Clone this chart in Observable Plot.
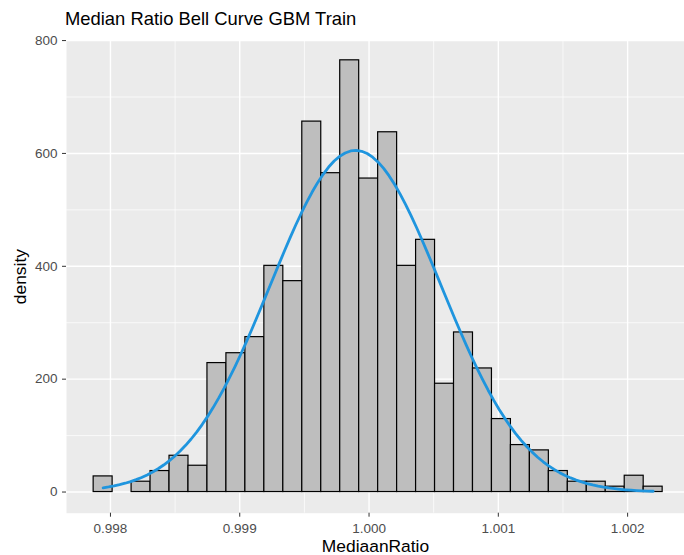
<!DOCTYPE html>
<html><head><meta charset="utf-8">
<script src="https://cdn.jsdelivr.net/npm/d3@7"></script>
<script src="https://cdn.jsdelivr.net/npm/@observablehq/plot@0.6"></script>
<style>
body{margin:0;background:#fff;font-family:"Liberation Sans",Arial,sans-serif;}
#title{height:35px;font-size:18.4px;line-height:38px;padding-left:65px;color:#000;white-space:nowrap;}
#chart svg{display:block;}
</style></head><body>
<div id="title">Median Ratio Bell Curve GBM Train</div>
<div id="chart"></div>
<script>
// Histogram bins (ggplot default 30 bins)
const binStart = 0.99787;
const binWidth = 0.0001467;
const densities = [27.7, 0, 18.3, 37.2, 64.3, 46.6, 228.5, 246, 274.5, 400.8,
                   373.7, 656.4, 565, 765, 555.5, 637.5, 400.8, 446.9, 191.9, 282.8,
                   219, 129.3, 83.2, 73.8, 37.2, 18.3, 18.3, 9.5, 28.9, 9.5];
// Normal curve parameters (stat_function dnorm)
const meanRatio = 0.999896;
const sdRatio = 0.000659;
// Axis ticks
const xTicks = [0.998, 0.999, 1.000, 1.001, 1.002];
const xMinor = [0.9985, 0.9995, 1.0005, 1.0015];
const yTicks = [0, 200, 400, 600, 800];
const yMinor = [100, 300, 500, 700];

const bins = densities.map((d, i) => ({x1: binStart + i * binWidth, x2: binStart + (i + 1) * binWidth, density: d}));
const xLo = binStart + binWidth / 2;
const xHi = binStart + (densities.length - 0.5) * binWidth;
const curve = d3.range(101).map(i => {
  const x = xLo + (xHi - xLo) * i / 100;
  return {x, y: Math.exp(-0.5 * ((x - meanRatio) / sdRatio) ** 2) / (sdRatio * Math.sqrt(2 * Math.PI))};
});

const chart = Plot.plot({
  width: 684, height: 520,
  marginTop: 4.5, marginBottom: 42.3, marginLeft: 66, marginRight: 0,
  style: {fontFamily: '"Liberation Sans", Arial, sans-serif', background: "#fff", overflow: "visible"},
  x: {domain: [0.99766, 1.00244]},
  y: {domain: [-37.5, 801]},
  marks: [
    Plot.frame({fill: "#ebebeb", stroke: null}),
    Plot.gridX(xMinor, {stroke: "#fff", strokeOpacity: 1, strokeWidth: 0.7}),
    Plot.gridY(yMinor, {stroke: "#fff", strokeOpacity: 1, strokeWidth: 0.7}),
    Plot.gridX(xTicks, {stroke: "#fff", strokeOpacity: 1, strokeWidth: 1.4}),
    Plot.gridY(yTicks, {stroke: "#fff", strokeOpacity: 1, strokeWidth: 1.4}),
    Plot.rectY(bins, {x1: "x1", x2: "x2", y: "density", fill: "#bebebe", stroke: "#000", strokeWidth: 1.2}),
    Plot.line(curve, {x: "x", y: "y", stroke: "#1f95de", strokeWidth: 2.8}),
    Plot.axisX(xTicks, {tickSize: 4, tickPadding: 6, fontSize: 13.5, stroke: "#333", fill: "#4d4d4d",
      tickFormat: d => d.toFixed(3), label: null}),
    Plot.axisY(yTicks, {tickSize: 4, tickPadding: 5, fontSize: 13.5, stroke: "#333", fill: "#4d4d4d",
      tickFormat: d => String(d), label: null}),
    Plot.text(["MediaanRatio"], {frameAnchor: "bottom", dy: 33.5, lineAnchor: "middle", textAnchor: "middle", fontSize: 17.4, fill: "#000"}),
    Plot.text(["density"], {frameAnchor: "left", dx: -46, rotate: -90, lineAnchor: "middle", textAnchor: "middle", fontSize: 17.4, fill: "#000"})
  ]
});
document.getElementById("chart").appendChild(chart);
</script>
</body></html>
